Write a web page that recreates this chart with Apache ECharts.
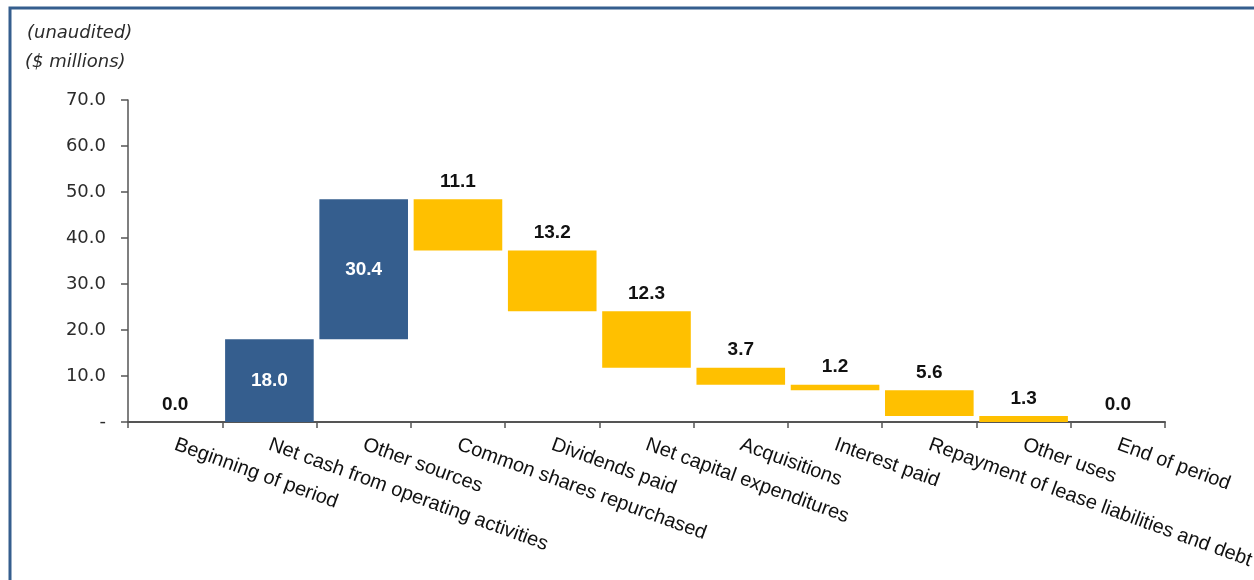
<!DOCTYPE html>
<html>
<head>
<meta charset="utf-8">
<script src="https://cdn.jsdelivr.net/npm/echarts@6/dist/echarts.min.js"></script>
<style>
html,body{margin:0;padding:0;background:#fff;}
#chart{width:1254px;height:580px;}
</style>
</head>
<body>
<div id="chart"></div>
<script>
var categories = ["Beginning of period","Net cash from operating activities","Other sources","Common shares repurchased","Dividends paid","Net capital expenditures","Acquisitions","Interest paid","Repayment of lease liabilities and debt","Other uses","End of period"];
var changes = [0.0, 18.0, 30.4, -11.1, -13.2, -12.3, -3.7, -1.2, -5.6, -1.3, 0.0];
var isTotal = [true, false, false, false, false, false, false, false, false, false, true];
var yTicks = [0, 10, 20, 30, 40, 50, 60, 70];

var BLUE = '#355E8E', YELLOW = '#FFC000';

var base = [], inc = [], dec = [], tot = [];
var running = 0;
for (var i = 0; i < changes.length; i++) {
  var v = changes[i];
  if (isTotal[i]) {
    base.push(0); inc.push('-'); dec.push('-'); tot.push(running);
  } else if (v >= 0) {
    base.push(running); inc.push(v); dec.push('-'); tot.push('-');
    running = +(running + v).toFixed(1);
  } else {
    running = +(running + v).toFixed(1);
    base.push(running); inc.push('-'); dec.push(-v); tot.push('-');
  }
}

var chart = echarts.init(document.getElementById('chart'), null, {renderer:'canvas'});
var FONT = '"Liberation Sans", Arial, sans-serif';
var WFONT = '"DejaVu Sans", sans-serif';
chart.setOption({
  animation: false,
  grid: {left: 128, right: 89, top: 100, bottom: 158, containLabel:false, outerBoundsMode:'none'},
  graphic: [
    {type:'polyline', shape:{points:[[10,580],[10,8],[1254,8]]}, style:{stroke:BLUE, lineWidth:3, fill:null}},
    {type:'text', left:27, top:24, style:{text:'(unaudited)', font:'italic 18px ' + WFONT, fill:'#2b2b2b'}},
    {type:'text', left:25, top:53, style:{text:'($ millions)', font:'italic 18px ' + WFONT, fill:'#2b2b2b'}}
  ],
  xAxis: {
    type:'category', data: categories,
    axisLine:{lineStyle:{color:'#555', width:2}},
    axisTick:{show:true, length:6, inside:false, lineStyle:{color:'#555', width:1.5}, alignWithLabel:false},
    axisLabel:{rotate:-20, interval:0, color:'#111', fontSize:20, fontFamily:FONT, margin:22}
  },
  yAxis: {
    type:'value', min:0, max:70, interval:10,
    splitLine:{show:false},
    axisLine:{show:true, lineStyle:{color:'#555', width:1.5}},
    axisTick:{show:true, length:7, lineStyle:{color:'#555', width:1.5}},
    axisLabel:{color:'#2b2b2b', fontSize:18, fontFamily:WFONT, margin:22,
      formatter:function(v){ return yTicks.indexOf(v) >= 0 ? (v === 0 ? '-' : v.toFixed(1)) : ''; }}
  },
  series: [
    {type:'bar', stack:'w', data: base, itemStyle:{color:'transparent'}, barCategoryGap:'6%', silent:true},
    {type:'bar', stack:'w', data: inc, itemStyle:{color:BLUE},
      label:{show:true, position:'inside', color:'#fff', fontWeight:'bold', fontSize:19, fontFamily:FONT,
        formatter:function(p){return (+p.value).toFixed(1);}}},
    {type:'bar', stack:'w', data: dec, itemStyle:{color:YELLOW},
      label:{show:true, position:'top', distance:8, color:'#111', fontWeight:'bold', fontSize:19, fontFamily:FONT,
        formatter:function(p){return (+p.value).toFixed(1);}}},
    {type:'bar', stack:'w', data: tot, itemStyle:{color:BLUE},
      label:{show:true, position:'top', distance:8, color:'#111', fontWeight:'bold', fontSize:19, fontFamily:FONT,
        formatter:function(p){return (+p.value).toFixed(1);}}}
  ]
});
</script>
</body>
</html>
